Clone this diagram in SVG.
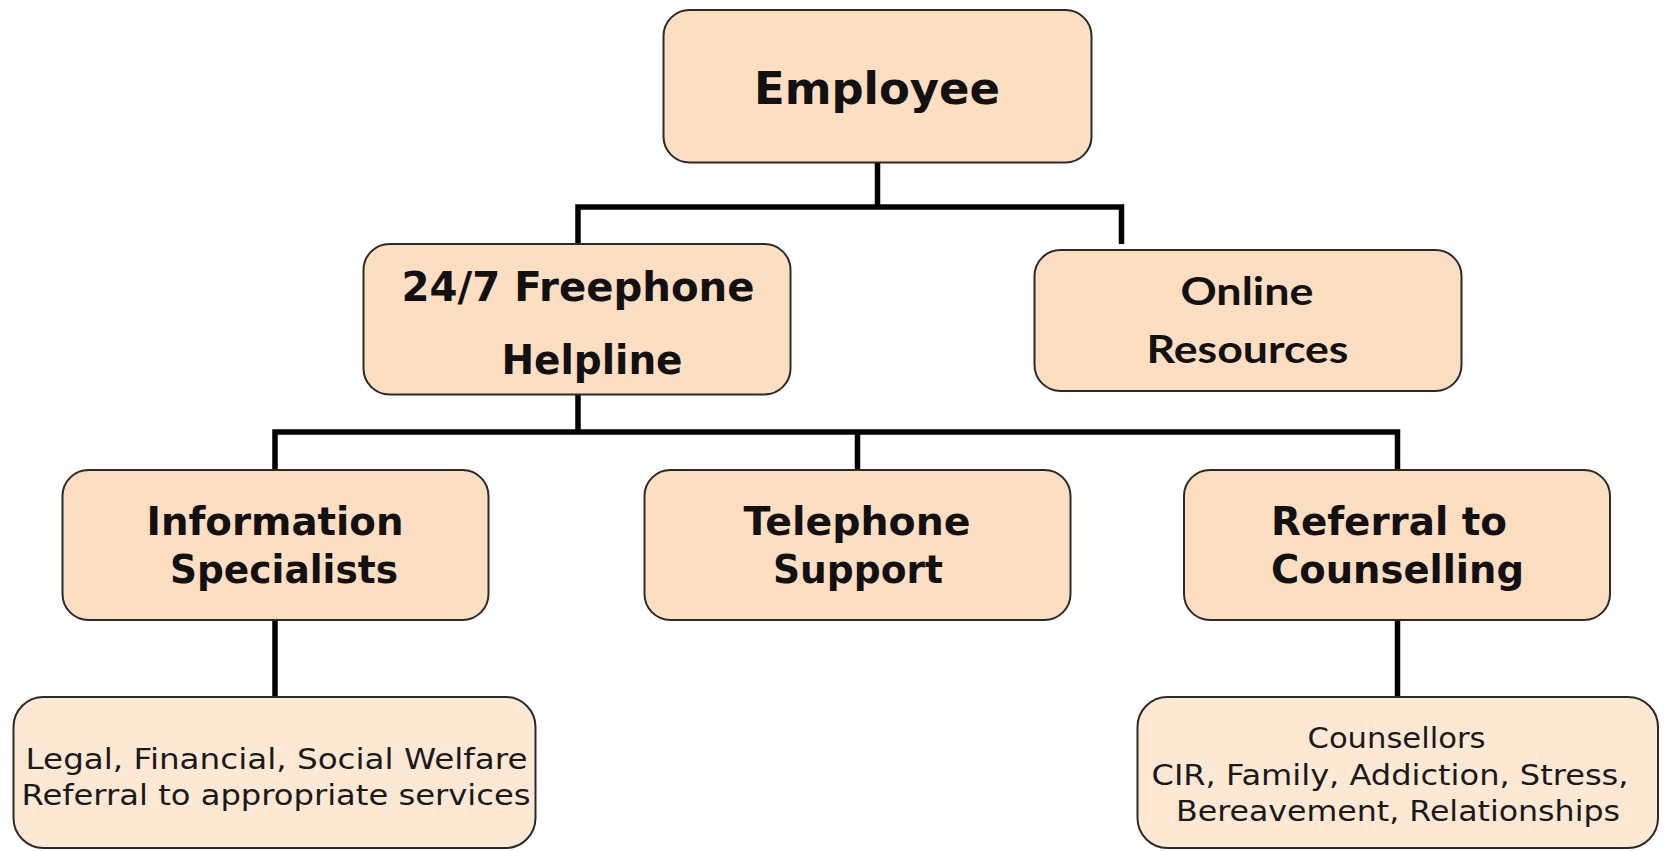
<svg xmlns="http://www.w3.org/2000/svg" width="1664" height="851" viewBox="0 0 1664 851">
<style>
.box{fill:#FDDEC0;stroke:#2a2a2a;stroke-width:2}
.sub{fill:#FDE8D4;stroke:#2a2a2a;stroke-width:2}
.t{font-family:"DejaVu Sans",Verdana,sans-serif;font-weight:bold;fill:#111;text-anchor:middle}
.c{font-family:Lato,"Liberation Sans",sans-serif;font-weight:bold;fill:#111;text-anchor:middle}
.s{font-family:"DejaVu Sans",Verdana,sans-serif;fill:#1a1a1a;text-anchor:middle}
.ln{fill:none;stroke:#000;stroke-width:5.5;stroke-linejoin:miter;stroke-linecap:butt}
</style>
<rect width="1664" height="851" fill="#fff"/>
<g id="connectors">
<path class="ln" d="M877.5,163 V207 M578,244 V207 H1121.5 V244"/>
<path class="ln" d="M578,395 V432 M275,470 V432 H1397.5 V470 M857.5,432 V470"/>
<path class="ln" d="M275,620 V697"/>
<path class="ln" d="M1397.5,620 V697"/>
</g>
<g id="employee">
<rect class="box" x="663.5" y="10" width="428" height="152.5" rx="26"/>
<text class="t" x="877" y="104" font-size="45" textLength="246" lengthAdjust="spacingAndGlyphs">Employee</text>
</g>
<g id="helpline">
<rect class="box" x="363.5" y="244" width="427" height="150.5" rx="26"/>
<text class="t" x="578" y="301" font-size="40" textLength="353" lengthAdjust="spacingAndGlyphs">24/7 Freephone</text>
<text class="t" x="592" y="374" font-size="40" textLength="181" lengthAdjust="spacingAndGlyphs">Helpline</text>
</g>
<g id="online">
<rect class="box" x="1034.5" y="250" width="427" height="141" rx="26"/>
<text class="c" x="1247" y="305" font-size="39" textLength="133" lengthAdjust="spacingAndGlyphs">Online</text>
<text class="c" x="1247.5" y="363" font-size="39" textLength="202" lengthAdjust="spacingAndGlyphs">Resources</text>
</g>
<g id="information">
<rect class="box" x="62.5" y="470" width="426" height="150" rx="26"/>
<text class="t" x="275" y="535" font-size="38.5" textLength="257" lengthAdjust="spacingAndGlyphs">Information</text>
<text class="t" x="284" y="583" font-size="38.5" textLength="228" lengthAdjust="spacingAndGlyphs">Specialists</text>
</g>
<g id="telephone">
<rect class="box" x="644.5" y="470" width="426" height="150" rx="26"/>
<text class="t" x="857" y="535" font-size="38.5" textLength="227" lengthAdjust="spacingAndGlyphs">Telephone</text>
<text class="t" x="858" y="583" font-size="38.5" textLength="170" lengthAdjust="spacingAndGlyphs">Support</text>
</g>
<g id="referral">
<rect class="box" x="1184" y="470" width="426" height="150" rx="26"/>
<text class="t" x="1389" y="535" font-size="38.5" textLength="236" lengthAdjust="spacingAndGlyphs">Referral to</text>
<text class="t" x="1397.5" y="583" font-size="38.5" textLength="253" lengthAdjust="spacingAndGlyphs">Counselling</text>
</g>
<g id="info-details">
<rect class="sub" x="13.5" y="697" width="522" height="151" rx="30"/>
<text class="s" x="276.5" y="769" font-size="28" textLength="502" lengthAdjust="spacingAndGlyphs">Legal, Financial, Social Welfare</text>
<text class="s" x="276" y="805" font-size="28" textLength="509" lengthAdjust="spacingAndGlyphs">Referral to appropriate services</text>
</g>
<g id="counsellors">
<rect class="sub" x="1137.5" y="697" width="520.5" height="151" rx="30"/>
<text class="s" x="1396.5" y="748" font-size="28" textLength="178" lengthAdjust="spacingAndGlyphs">Counsellors</text>
<text class="s" x="1390" y="785" font-size="28" textLength="477" lengthAdjust="spacingAndGlyphs">CIR, Family, Addiction, Stress,</text>
<text class="s" x="1398" y="821" font-size="28" textLength="444" lengthAdjust="spacingAndGlyphs">Bereavement, Relationships</text>
</g>
</svg>
